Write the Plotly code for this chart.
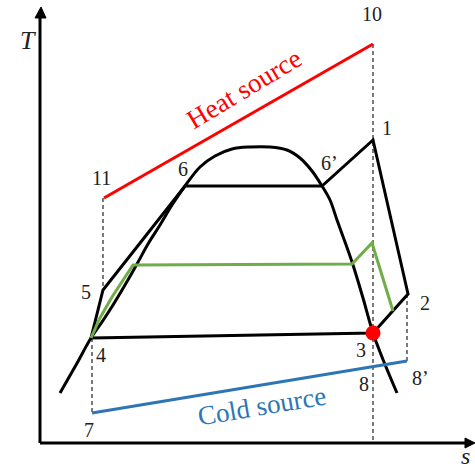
import plotly.graph_objects as go

# Saturation dome (entropy s, temperature T), arbitrary units
dome_s = [20, 36, 51, 62, 73, 85, 97, 108, 120, 132, 145, 160, 175, 192, 210,
          230, 247, 260, 272, 282, 290, 297, 305, 313, 323, 333, 344, 357]
dome_T = [50, 78, 105, 121, 138, 158, 179, 199, 218, 238, 257, 276, 287, 294, 296,
          296, 293, 285, 272, 257, 243, 223, 201, 178, 145, 110, 81, 50]

# State points of the main cycle: 4 -> 5 -> 6 -> 6' -> 1 -> 2 -> 3 -> 4
cycle_labels = ["4", "5", "6", "6’", "1", "2", "3", "4"]
cycle_s = [51, 63, 145, 282, 333, 368, 333, 51]
cycle_T = [105, 153, 257, 257, 303, 149, 110, 105]

# Lower-pressure cycle (green)
low_s = [51, 60, 72, 93, 312, 332, 353]
low_T = [105, 125, 146, 178, 179, 200, 132]

# Heat source (11 -> 10) and cold source (7 -> 8')
heat_s = [64, 333]
heat_T = [245, 399]
cold_s = [52, 367]
cold_T = [30, 82]

# Point labels and their positions
label_text = ["10", "1", "11", "6", "6’", "5", "4", "7", "2", "3", "8", "8’"]
label_s = [332, 347, 61, 143, 289, 46, 61, 49, 385, 321, 324, 380]
label_T = [429, 315, 265, 274, 280, 151, 88, 13, 140, 93, 59, 65]

BLACK = "#000000"
SERIF = "Liberation Serif, Times New Roman, serif"

fig = go.Figure()


def line(xs, ys, color=BLACK, width=3, dash=None, shape="linear"):
    fig.add_trace(go.Scatter(
        x=xs, y=ys, mode="lines",
        line=dict(color=color, width=width, dash=dash, shape=shape),
        hoverinfo="skip", showlegend=False,
    ))


# Dashed guide lines
guide = dict(color="#333333", width=1.3, dash="4px,3px")
line([cycle_s[4], cycle_s[4]], [heat_T[1], 0], **guide)      # 10 - 1 - 3 - 8
line([cycle_s[1], cycle_s[1]], [heat_T[0], cycle_T[1]], **guide)  # 11 - 5
line([cold_s[0], cold_s[0]], [cycle_T[0], cold_T[0]], **guide)    # 4 - 7
line([cold_s[1], cold_s[1]], [cycle_T[5], cold_T[1]], **guide)    # 2 - 8'

# Saturation dome and cycles
line(dome_s, dome_T, shape="spline")
line(cycle_s, cycle_T)
line(low_s, low_T, color="#70ad47")

# Heat and cold sources
line(heat_s, heat_T, color="#ff0000")
line(cold_s, cold_T, color="#2e75b6")

# State 3 marker
fig.add_trace(go.Scatter(
    x=[cycle_s[6]], y=[cycle_T[6]], mode="markers",
    marker=dict(color="#ff0000", size=15),
    hoverinfo="skip", showlegend=False,
))

# Axes with arrowheads
line([0, 0], [0, 425])
line([0, 427], [0, 0])
fig.add_trace(go.Scatter(
    x=[-5, 1, 6, -5], y=[425, 436, 425, 425], mode="lines", fill="toself",
    fillcolor=BLACK, line=dict(color=BLACK, width=1),
    hoverinfo="skip", showlegend=False,
))
fig.add_trace(go.Scatter(
    x=[425, 435, 425, 425], y=[5, 0, -5, 5], mode="lines", fill="toself",
    fillcolor=BLACK, line=dict(color=BLACK, width=1),
    hoverinfo="skip", showlegend=False,
))

# Text
for t, sx, ty in zip(label_text, label_s, label_T):
    fig.add_annotation(x=sx, y=ty, text=t, showarrow=False,
                       font=dict(family=SERIF, size=20, color="#222222"))

fig.add_annotation(x=-12, y=403, text="<i>T</i>", showarrow=False,
                   font=dict(family=SERIF, size=26, color="#222222"))
fig.add_annotation(x=425, y=-13, text="<i>s</i>", showarrow=False,
                   font=dict(family=SERIF, size=24, color="#222222"))
fig.add_annotation(x=204, y=354, text="Heat source", showarrow=False,
                   textangle=-31,
                   font=dict(family=SERIF, size=27, color="#ff0000"))
fig.add_annotation(x=222, y=37, text="Cold source", showarrow=False,
                   textangle=-9.5,
                   font=dict(family=SERIF, size=27, color="#2e75b6"))

fig.update_layout(
    width=475, height=471,
    margin=dict(l=0, r=0, t=0, b=0),
    paper_bgcolor="white", plot_bgcolor="white",
    xaxis=dict(range=[-40, 435], visible=False, fixedrange=True),
    yaxis=dict(range=[-28, 443], visible=False, fixedrange=True),
    showlegend=False,
)

fig.write_html("out.html")
